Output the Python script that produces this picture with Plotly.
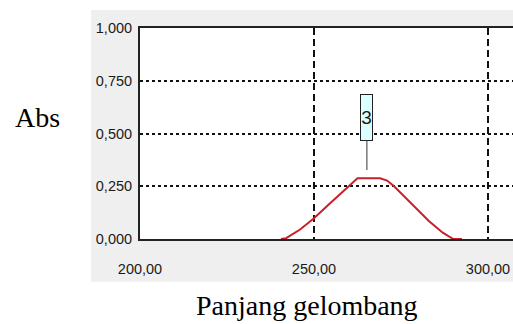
import plotly.graph_objects as go

# Data
wavelength = [240.5, 242.0, 246.0, 250.0, 254.0, 258.0, 262.5, 269.0, 271.0, 273.0, 278.0, 283.0, 287.0, 290.0, 292.5]
absorbance = [0.0, 0.004, 0.045, 0.098, 0.160, 0.222, 0.288, 0.288, 0.277, 0.250, 0.168, 0.085, 0.030, 0.0, 0.0]

x_tickvals = [200, 250, 300]
x_ticktext = ["200,00", "250,00", "300,00"]
y_tickvals = [0, 0.25, 0.5, 0.75, 1.0]
y_ticktext = ["0,000", "0,250", "0,500", "0,750", "1,000"]

peak_label = "3"
peak_x = 265.2
peak_y = 0.327

tick_font = dict(family="Liberation Sans, Arial, sans-serif", size=14.5, color="#1a1a1a")
title_font = dict(family="Liberation Serif, Times New Roman, serif", size=28, color="#000000")

fig = go.Figure()
fig.add_trace(go.Scatter(x=wavelength, y=absorbance, mode="lines",
                         line=dict(color="#c8202a", width=2), showlegend=False, hoverinfo="skip"))

fig.update_layout(
    width=513, height=324,
    margin=dict(l=140, r=0, t=28, b=85),
    paper_bgcolor="white", plot_bgcolor="white",
    shapes=[
        dict(type="rect", xref="paper", yref="paper", x0=-0.1314, x1=1.05, y0=-0.2024, y1=1.0853,
             fillcolor="#efefef", line=dict(width=0), layer="below"),
        dict(type="rect", xref="paper", yref="paper", x0=0, x1=1.05, y0=0, y1=1,
             fillcolor="white", line=dict(width=0), layer="below"),
    ],
    xaxis=dict(range=[200, 307.18], tickvals=x_tickvals, ticktext=x_ticktext,
               showgrid=True, gridcolor="#111111", gridwidth=2, griddash="7px,4px",
               showline=True, linecolor="#222222", linewidth=2, mirror=True,
               ticks="", tickfont=tick_font, ticklabelstandoff=16, zeroline=False,
               automargin=False),
    yaxis=dict(range=[0, 1.0], tickvals=y_tickvals, ticktext=y_ticktext,
               showgrid=True, gridcolor="#111111", gridwidth=2, griddash="3px,3px",
               showline=True, linecolor="#222222", linewidth=2,
               ticks="", tickfont=tick_font, ticklabelstandoff=3, zeroline=False,
               automargin=False),
    annotations=[
        dict(x=peak_x, y=peak_y, xref="x", yref="y", text=peak_label, showarrow=True,
             arrowhead=0, arrowwidth=1, arrowcolor="#333333", ax=0, ay=-53,
             bgcolor="#dcffff", bordercolor="#222222", borderwidth=1, borderpad=0,
             width=11, height=45, font=dict(family=tick_font["family"], size=19, color="#1a1a1a")),
        dict(x=-0.2735, y=0.578, xref="paper", yref="paper", text="Abs", showarrow=False,
             xanchor="center", yanchor="middle", font=title_font),
        dict(x=0.4477, y=-0.3175, xref="paper", yref="paper", text="Panjang gelombang", showarrow=False,
             xanchor="center", yanchor="middle", font=title_font),
    ],
)

fig.write_html("out.html", config={"displayModeBar": False},
               post_script="document.body.style.margin='0';document.body.style.overflow='hidden';")
